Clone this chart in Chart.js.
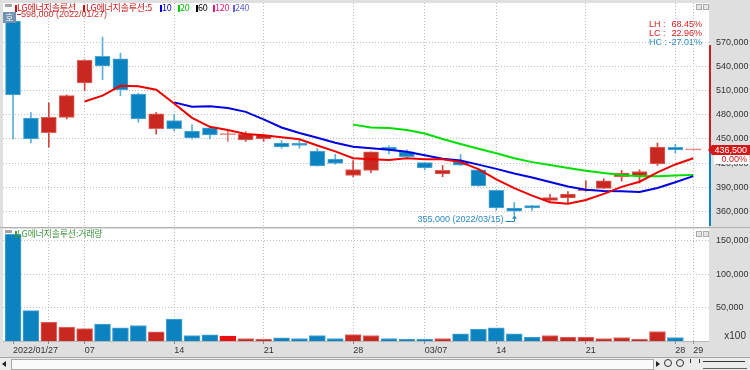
<!DOCTYPE html>
<html>
<head>
<meta charset="utf-8">
<script src="https://cdn.jsdelivr.net/npm/chart.js@4.4.1/dist/chart.umd.min.js"></script>
<style>
  html,body{margin:0;padding:0;}
  body{width:750px;height:370px;position:relative;overflow:hidden;background:#dfdfdf;font-family:'Liberation Sans',Arial,sans-serif;}
  .a{position:absolute;}
  .panel{position:absolute;background:#fff;}
  .kr{position:absolute;font-family:'Noto Sans CJK KR','Liberation Sans',sans-serif;font-size:9px;line-height:10px;white-space:nowrap;letter-spacing:-0.2px;}
  .mk{position:absolute;width:2px;height:7px;}
  .t9{position:absolute;font-size:9px;line-height:10px;white-space:nowrap;}
  canvas{position:absolute;left:0;}
</style>
</head>
<body>
<div class="panel" style="left:3px;top:3px;width:706px;height:224px;"></div>
<div class="a" style="left:0;top:227px;width:750px;height:1px;background:#b2b2b2;"></div>
<div class="panel" style="left:3px;top:229px;width:706px;height:112px;"></div>
<div class="a" style="left:3px;top:341px;width:706px;height:1px;background:#b8b8b8;"></div>
<div class="a" style="left:0;top:357px;width:750px;height:13px;background:#ececec;border-top:1px solid #a6a6a6;"></div>

<canvas id="pc" width="750" height="228" style="top:0"></canvas>
<canvas id="vc" width="750" height="129" style="top:228px"></canvas>

<!-- price panel legend -->
<div class="a" style="left:5px;top:4px;width:7px;height:3px;background:#a4a4a4;"></div>
<div class="mk" style="left:15px;top:5px;background:#cc1010;"></div>
<div class="kr" style="left:17px;top:3px;color:#cc1515;">LG에너지솔루션</div>
<div class="mk" style="left:83px;top:5px;background:#cc1010;"></div>
<div class="kr" style="left:86px;top:3px;color:#cc1515;">LG에너지솔루션:5</div>
<div class="mk" style="left:160px;top:5px;background:#0000dd;"></div>
<div class="kr" style="left:162px;top:3px;color:#0000dd;">10</div>
<div class="mk" style="left:178px;top:5px;background:#00cc00;"></div>
<div class="kr" style="left:180px;top:3px;color:#00bb00;">20</div>
<div class="mk" style="left:196px;top:5px;background:#000;"></div>
<div class="kr" style="left:198px;top:3px;color:#000;">60</div>
<div class="mk" style="left:213px;top:5px;background:#e8187a;"></div>
<div class="kr" style="left:215px;top:3px;color:#e8187a;">120</div>
<div class="mk" style="left:233px;top:5px;background:#6464dc;"></div>
<div class="kr" style="left:235px;top:3px;color:#6464dc;">240</div>

<div class="a" style="left:3px;top:12px;width:13px;height:11px;background:#7391b0;border:0;"></div>
<div class="kr" style="left:3px;top:12px;width:13px;text-align:center;color:#fff;line-height:11px;letter-spacing:0;">호</div>

<div class="a" style="left:696px;top:4px;width:4px;height:4px;border:1px solid #aaa;background:#e6e6e6;"></div>
<div class="a" style="left:703px;top:4px;width:4px;height:4px;border:1px solid #aaa;background:#e6e6e6;"></div>

<div class="t9" style="left:649px;top:19px;color:#d42020;">LH :</div>
<div class="t9" style="right:48px;top:19px;color:#d42020;">68.45%</div>
<div class="t9" style="left:649px;top:28px;color:#d42020;">LC :</div>
<div class="t9" style="right:48px;top:28px;color:#d42020;">22.96%</div>
<div class="t9" style="left:649px;top:37px;color:#2a8ac8;">HC :</div>
<div class="t9" style="right:48px;top:37px;color:#2a8ac8;">-27.01%</div>

<!-- volume panel legend -->
<div class="a" style="left:5px;top:230px;width:7px;height:3px;background:#a4a4a4;"></div>
<div class="mk" style="left:15px;top:231px;background:#3c963c;"></div>
<div class="kr" style="left:17px;top:229px;color:#3c963c;">LG에너지솔루션:거래량</div>
<div class="a" style="left:696px;top:231px;width:4px;height:4px;border:1px solid #aaa;background:#e6e6e6;"></div>
<div class="a" style="left:703px;top:231px;width:4px;height:4px;border:1px solid #aaa;background:#e6e6e6;"></div>
<div class="t9" style="right:4px;top:331px;color:#333;font-size:10px;">x100</div>

<!-- scroll strip -->
<div class="a" style="left:2px;top:361px;width:0;height:0;border-top:3px solid transparent;border-bottom:3px solid transparent;border-right:4px solid #222;"></div>
<div class="a" style="left:11px;top:359px;width:641px;height:9px;background:#fafafa;border:1px solid #a8a8a8;"></div>
<div class="a" style="left:656px;top:361px;width:0;height:0;border-top:3px solid transparent;border-bottom:3px solid transparent;border-left:4px solid #222;"></div>
<div class="a" style="left:664px;top:359px;width:6px;height:6px;border:1px solid #333;border-radius:50%;"></div>
<div class="a" style="left:676px;top:359px;width:6px;height:6px;border:1px solid #333;border-radius:50%;"></div>
<div class="a" style="left:690px;top:359px;width:8px;height:4px;border-left:1px solid #333;border-right:1px solid #333;"></div>
<div class="a" style="left:703px;top:361px;width:42px;height:1px;background:#333;"></div>
<div class="a" style="left:703px;top:365px;width:44px;height:3px;border-bottom:1px solid #666;"></div>

<script>
// ---------- data ----------
const dates = ['2022/01/27','2022/01/28','2022/02/03','2022/02/04','2022/02/07','2022/02/08','2022/02/09','2022/02/10','2022/02/11',
  '2022/02/14','2022/02/15','2022/02/16','2022/02/17','2022/02/18','2022/02/21','2022/02/22','2022/02/23','2022/02/24','2022/02/25',
  '2022/02/28','2022/03/02','2022/03/03','2022/03/04','2022/03/07','2022/03/08','2022/03/10','2022/03/11','2022/03/14','2022/03/15',
  '2022/03/16','2022/03/17','2022/03/18','2022/03/21','2022/03/22','2022/03/23','2022/03/24','2022/03/25','2022/03/28','2022/03/29'];
const openP  = [597000,476000,458000,477000,520000,553000,550000,506000,463000,473000,460000,464000,455500,449000,450000,445000,444500,435000,425000,404500,411000,439500,434000,420500,406500,421500,411500,386000,364000,367000,373500,376500,385500,388500,403000,404000,419000,439500,436500];
const highP  = [598000,483000,495000,505000,549000,577000,557000,507000,483000,481000,467500,466000,460000,459000,456000,448000,448000,438000,431000,423000,434000,441500,436500,421000,417000,431000,413000,386500,371000,367500,381000,384500,398000,400500,411000,411500,445000,443500,436500];
const lowP   = [450000,445000,440000,475000,510000,524000,504000,471000,456000,460000,450000,450000,447000,447000,447000,438500,438500,416000,418500,403000,408000,431500,427000,411500,403000,417000,391000,361500,355000,361000,373000,370500,385000,388000,397500,395000,417000,432500,436500];
const closeP = [505000,450000,477000,504000,548000,541000,511000,475000,481500,463000,451500,455000,455500,456000,455000,440000,442000,416500,419500,412000,434000,436500,428000,414000,411000,417500,391500,364000,360000,364000,377000,381500,387500,398000,407500,409500,440000,436500,436500];
const volume = [160000,45500,28200,20700,18700,25200,19800,23200,13800,32700,8200,9300,7200,3700,2700,4800,3700,8200,3700,9700,8200,3700,2700,2700,3700,10800,17700,19800,10800,5700,8200,5700,5700,3700,5200,2700,14200,5200,0];
const ma5  = [null,null,null,null,496800,504000,516200,515800,511300,494300,476400,465200,461300,456200,454600,452300,449700,441900,434600,426000,424800,423700,426000,424900,424700,421400,412400,399600,388800,379400,371300,369300,374000,381600,390300,396800,408500,418300,426000];
const ma10 = [null,null,null,null,null,null,null,null,null,495600,490200,490700,488600,483800,474500,464400,457500,451600,445400,440300,438600,436700,434000,429800,425400,423100,418100,412800,406900,402100,396400,390900,386800,385200,384900,384100,388900,396200,403800];
const ma20 = [null,null,null,null,null,null,null,null,null,null,null,null,null,null,null,null,null,null,null,467900,464400,463700,461300,456800,449900,443700,437800,432200,426100,421200,417500,413800,410400,407500,405100,403600,403500,404500,405300];
const priceTicks = [360000,390000,420000,450000,480000,510000,540000,570000];
const volTicks = [50000,100000,150000];
const xTickPos  = [1,3,5,10,15,20,24,28,33,38,39];
const xTickText = ['2022/01/27','','07','14','21','28','03/07','14','21','28','29'];
const periodHigh = 598000, periodHighPos = 1, periodHighDate = '2022/01/27';
const periodLow = 355000, periodLowPos = 29, periodLowDate = '2022/03/15';
const lastPrice = 436500, changeText = '0.00%', upperLimit = 567000, lowerLimit = 305500;

// ---------- helpers ----------
const fmt = v => String(v).replace(/\B(?=(\d{3})+(?!\d))/g, ',');
const idx = dates.map((d, i) => i + 1);
const dir = i => closeP[i] > openP[i] ? 1 : (closeP[i] < openP[i] ? -1 : 0);
const COL = {upF:'#c8281f', upB:'#e0625c', upW:'#d0443e', dnF:'#0b83c0', dnB:'#53a8d6', dnW:'#5aaedb', eq:'#e87474', eqV:'#e81010'};
const bodyFill   = idx.map((_, i) => dir(i) > 0 ? COL.upF : dir(i) < 0 ? COL.dnF : COL.eq);
const bodyBorder = idx.map((_, i) => dir(i) > 0 ? COL.upB : dir(i) < 0 ? COL.dnB : COL.eq);
const wickCol    = idx.map((_, i) => dir(i) > 0 ? COL.upW : dir(i) < 0 ? COL.dnW : COL.eq);
const volFill    = idx.map((_, i) => dir(i) > 0 ? COL.upF : dir(i) < 0 ? COL.dnF : COL.eqV);
const volBorder  = idx.map((_, i) => dir(i) > 0 ? '#e07070' : dir(i) < 0 ? '#4ea6d6' : COL.eqV);
const maPts = arr => arr.map((v, i) => v == null ? null : {x: i + 1, y: v}).filter(Boolean);

const gridColor = '#bcbcbc';
const yFont = {family: "'Liberation Sans',Arial,sans-serif", size: 9};
const xFont = {family: "'Liberation Sans',Arial,sans-serif", size: 9};
const noPad = s => { s.paddingTop = 0; s.paddingBottom = 0; s.paddingLeft = 0; s.paddingRight = 0; };

function xScale(show) {
  return {
    type: 'linear', min: 0.44, max: 39.88, offset: false,
    afterBuildTicks: s => { s.ticks = xTickPos.map(v => ({value: v})); },
    afterFit: s => { s.height = show ? 16 : 0; noPad(s); },
    grid: {offset: false, color: c => (c.tick && c.tick.value === 1) ? 'rgba(0,0,0,0)' : gridColor,
           drawTicks: show, tickLength: 3, tickColor: '#8c8c8c', tickBorderDash: []},
    border: {display: false, dash: [1, 2]},
    ticks: {display: show, autoSkip: false, maxRotation: 0, minRotation: 0, align: 'start', padding: 1,
            color: '#333', font: xFont,
            callback: v => { const k = xTickPos.indexOf(v); return k >= 0 ? xTickText[k] : ''; }}
  };
}
function yScale(min, max, ticks) {
  return {
    position: 'right', min: min, max: max,
    afterBuildTicks: s => { s.ticks = ticks.map(v => ({value: v})); },
    afterFit: s => { s.width = 41; noPad(s); },
    grid: {color: gridColor, drawTicks: false},
    border: {display: false, dash: [1, 2]},
    ticks: {padding: 7, color: '#333', font: yFont, autoSkip: false, callback: v => fmt(v)}
  };
}

const annot = {
  id: 'annot',
  afterDraw(chart) {
    const {ctx, chartArea: ca} = chart;
    const xs = chart.scales.x, ys = chart.scales.y;
    ctx.save();
    // daily price-limit bar on the axis
    const yU = ys.getPixelForValue(upperLimit);
    const yC = Math.round(ys.getPixelForValue(lastPrice));
    const yL = Math.min(ys.getPixelForValue(lowerLimit), ca.bottom);
    ctx.fillStyle = '#d41c1c'; ctx.fillRect(ca.right, yU, 2, yC - yU);
    ctx.fillStyle = '#0a83c0'; ctx.fillRect(ca.right, yC, 2, yL - yC);
    // current price tag
    ctx.fillStyle = '#d41818';
    ctx.beginPath();
    ctx.moveTo(ca.right - 1, yC); ctx.lineTo(ca.right + 3, yC - 5); ctx.lineTo(750, yC - 5);
    ctx.lineTo(750, yC + 5); ctx.lineTo(ca.right + 3, yC + 5); ctx.closePath(); ctx.fill();
    ctx.font = "9px 'Liberation Sans',Arial,sans-serif";
    ctx.textBaseline = 'middle'; ctx.textAlign = 'right';
    ctx.fillStyle = '#fff'; ctx.fillText(fmt(lastPrice), 747, yC + 0.5);
    ctx.fillRect(ca.right + 5, yC + 5, 750 - ca.right - 6, 9);
    ctx.fillStyle = '#d41818'; ctx.fillText(changeText, 747, yC + 10);
    // period high label
    const hx = xs.getPixelForValue(periodHighPos), hy = ys.getPixelForValue(periodHigh);
    ctx.strokeStyle = '#c83030'; ctx.lineWidth = 1;
    ctx.beginPath(); ctx.moveTo(hx + 4, Math.round(hy - 6) + 0.5); ctx.lineTo(hx + 8, Math.round(hy - 6) + 0.5); ctx.stroke();
    ctx.fillStyle = '#c83030'; ctx.textAlign = 'left';
    ctx.fillText(fmt(periodHigh) + ' (' + periodHighDate + ')', hx + 8, hy - 6);
    // period low label
    const lx = Math.round(xs.getPixelForValue(periodLowPos)) + 0.5, ly = ys.getPixelForValue(periodLow);
    ctx.fillStyle = '#2a88c4'; ctx.strokeStyle = '#2a88c4'; ctx.textAlign = 'right';
    ctx.fillText(fmt(periodLow) + ' (' + periodLowDate + ')', lx - 11, ly + 4.5);
    const by = Math.round(ly + 6) + 0.5;
    ctx.beginPath(); ctx.moveTo(lx - 9, by); ctx.lineTo(lx, by); ctx.lineTo(lx, ly + 2); ctx.stroke();
    ctx.beginPath(); ctx.moveTo(lx, ly); ctx.lineTo(lx - 2.5, ly + 3.5); ctx.lineTo(lx + 2.5, ly + 3.5); ctx.closePath(); ctx.fill();
    ctx.restore();
  }
};

new Chart(document.getElementById('pc'), {
  type: 'bar',
  data: {datasets: [
    {type: 'line', label: '5', data: maPts(ma5), borderColor: '#ee0000', borderWidth: 2, pointRadius: 0, tension: 0, fill: false, order: 0},
    {type: 'line', label: '10', data: maPts(ma10), borderColor: '#0000e0', borderWidth: 2, pointRadius: 0, tension: 0, fill: false, order: 0},
    {type: 'line', label: '20', data: maPts(ma20), borderColor: '#00e000', borderWidth: 2, pointRadius: 0, tension: 0, fill: false, order: 0},
    {type: 'bar', label: 'body', data: idx.map(i => ({x: i, y: [openP[i - 1], closeP[i - 1]]})),
     backgroundColor: bodyFill, borderColor: bodyBorder, borderWidth: 1, borderSkipped: false,
     barThickness: 15, grouped: false, minBarLength: 1, order: 1},
    {type: 'bar', label: 'wick', data: idx.map(i => ({x: i, y: [lowP[i - 1], highP[i - 1]]})),
     backgroundColor: wickCol, borderWidth: 0, barThickness: 1, grouped: false, order: 2}
  ]},
  options: {
    responsive: false, animation: false, devicePixelRatio: 1, events: [],
    layout: {padding: {left: 3, top: 3, right: 0, bottom: 2}},
    plugins: {legend: {display: false}, tooltip: {enabled: false}},
    scales: {x: xScale(false), y: yScale(341600, 619450, priceTicks)}
  },
  plugins: [annot]
});

new Chart(document.getElementById('vc'), {
  type: 'bar',
  data: {datasets: [
    {label: '거래량', data: idx.map(i => ({x: i, y: volume[i - 1]})), backgroundColor: volFill,
     borderColor: volBorder, borderWidth: 1, barThickness: 16, grouped: false}
  ]},
  options: {
    responsive: false, animation: false, devicePixelRatio: 1, events: [],
    layout: {padding: {left: 3, top: 1, right: 0, bottom: 0}},
    plugins: {legend: {display: false}, tooltip: {enabled: false}},
    scales: {x: xScale(true), y: yScale(0, 168000, volTicks)}
  }
});
</script>
</body>
</html>
